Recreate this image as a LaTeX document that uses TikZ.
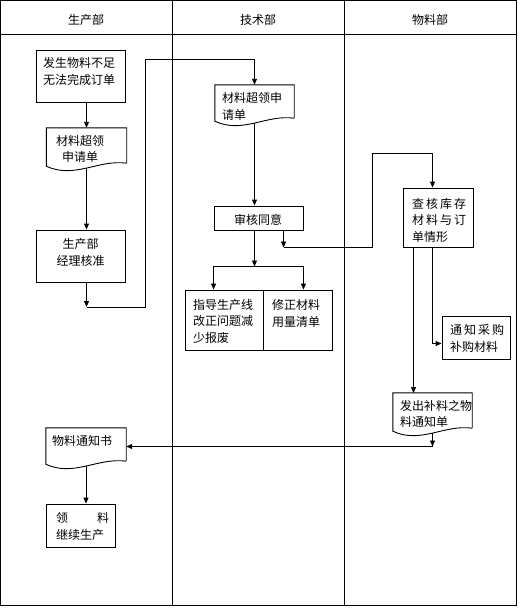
\documentclass[tikz,border=0pt]{standalone}
\usepackage{fontspec}
\setmainfont{Noto Sans CJK SC}
\usetikzlibrary{arrows.meta,calc}
\newcommand\jg{\hspace{2pt}}
\newcommand\docoutline[1]{%
  \draw[shapeline] (#1.south east) -- (#1.north east) -- (#1.north west) -- ([yshift=-3pt]#1.south west)
    .. controls ($(#1.south west)!0.35!(#1.south east)+(0,16)$) and ($(#1.south west)!0.65!(#1.south east)+(0,-4)$) .. (#1.south east);}
\tikzset{
  shapeline/.style={draw=black, line width=0.9pt},
  boxnode/.style={draw=black, line width=0.9pt, rectangle, inner sep=0pt},
  docnode/.style={draw=none, rectangle, inner sep=0pt},
  txt/.style={inner sep=0pt, font=\fontsize{12}{16.5}\selectfont},
  arr/.style={draw=black, line width=0.9pt, -{Triangle[length=6pt,width=5pt]}},
  ln/.style={draw=black, line width=0.9pt},
}
\begin{document}
\begin{tikzpicture}[x=1pt,y=-1pt]
\useasboundingbox (0,0) rectangle (519,608);
\fill[white] (0,0) rectangle (519,608);
% frame and lanes
\draw[ln] (0.5,0.5) rectangle (516.5,605.5);
\draw[ln] (172.5,0.5) -- (172.5,605.5);
\draw[ln] (344.5,0.5) -- (344.5,605.5);
\draw[ln] (0.5,34.5) -- (516.5,34.5);
\node[txt] (h1) at (86,20) {生产部};
\node[txt] (h2) at (258,20) {技术部};
\node[txt] (h3) at (430,20) {物料部};

% shapes
\node[boxnode, minimum width=89pt, minimum height=52pt] (b1) at (80.5,76) {};
\node[docnode, minimum width=80pt, minimum height=35pt] (d2) at (86.5,145.5) {};
\docoutline{d2}
\node[boxnode, minimum width=89pt, minimum height=52pt] (b3) at (80.5,256) {};
\node[docnode, minimum width=79pt, minimum height=33pt] (d4) at (254.5,101.5) {};
\docoutline{d4}
\node[boxnode, minimum width=89pt, minimum height=24pt] (b5) at (258.5,218) {};
\node[boxnode, minimum width=78pt, minimum height=60pt] (b6) at (224,320) {};
\node[boxnode, minimum width=69pt, minimum height=60pt] (b7) at (297.5,320) {};
\node[boxnode, minimum width=70pt, minimum height=59pt] (b8) at (438,217.5) {};
\node[boxnode, minimum width=68pt, minimum height=43pt] (b9) at (476,337.5) {};
\node[docnode, minimum width=79pt, minimum height=35pt] (d10) at (432.5,410.5) {};
\docoutline{d10}
\node[docnode, minimum width=80pt, minimum height=33pt] (d11) at (86,444.5) {};
\docoutline{d11}
\node[boxnode, minimum width=69pt, minimum height=43pt] (b12) at (80.5,525.5) {};

% texts
\node[txt, align=center] (t1) at (79,71.5) {发生物料不足\\无法完成订单};
\node[txt, align=center] (t2) at (80,149) {材料超领\\申请单};
\node[txt, align=center] (t3) at (80.5,252.5) {生产部\\经理核准};
\node[txt, align=left, anchor=west] (t4) at (222,106.5) {材料超领申\\请单};
\node[txt] (t5) at (258,219.5) {审核同意};
\node[txt, align=left, anchor=west] (t6) at (193,321) {指导生产线\\改正问题减\\少报废};
\node[txt, align=left, anchor=west] (t7) at (272,313.5) {修正材料\\用量清单};
\node[txt, align=left, anchor=west] (t8) at (412,220) {查\jg 核\jg 库\jg 存\\材\jg 料\jg 与\jg 订\\单情形};
\node[txt, align=left, anchor=west] (t9) at (450,338.5) {通\jg 知\jg 采\jg 购\\补购材料};
\node[txt, align=left, anchor=west] (t10) at (400,414) {发出补料之物\\料通知单};
\node[txt, align=left, anchor=west] (t11) at (52,441) {物料通知书};
\node[txt, align=left, anchor=west] (t12) at (56,526.5) {领\hspace{29pt}料\\继续生产};

% coordinates
\coordinate (c1) at (86.5,307);
\coordinate (k1) at (145.5,59.5);
\coordinate (c2) at (254.5,266.5);
\coordinate (c3) at (283.5,247.5);
\coordinate (k2) at (372.5,153.5);
\coordinate (k3) at (432.5,153.5);
\coordinate (lx) at (413.5,393);
\coordinate (k5) at (432.5,343.5);
\coordinate (c4) at (432.5,446.5);

% connectors
\draw[arr] (b1.south -| d2.north) -- (d2.north);
\draw[arr] ([yshift=-5pt]d2.south) -- (b3.north -| d2.south);
\draw[arr] (b3.south -| d2.south) -- (c1);
\draw[arr] (c1) -| (k1) -| (d4.north);
\draw[arr] ([yshift=-5pt]d4.south) -- (b5.north -| d4.south);
\draw[arr] (b5.south -| d4.south) -- (c2);
\draw[arr] (c2) -| (b6.north -| b5.west);
\draw[arr] (c2) -| (b7.north -| b5.east);
\draw[arr] (b5.south -| c3) -- (c3);
\draw[arr] (c3) -| (k2) -- (k3) -- (k3 |- b8.north);
\draw[arr] (b8.south -| lx) -- (lx);
\draw[arr] (b8.south -| k5) -- (k5) -- (k5 -| b9.west);
\draw[arr] ([yshift=-5pt]d10.south) -- (c4);
\draw[arr] (c4) -- (c4 -| d11.east);
\draw[arr] ([yshift=-5pt]d11.south) -- (d11.south |- b12.north);
\end{tikzpicture}
\end{document}
